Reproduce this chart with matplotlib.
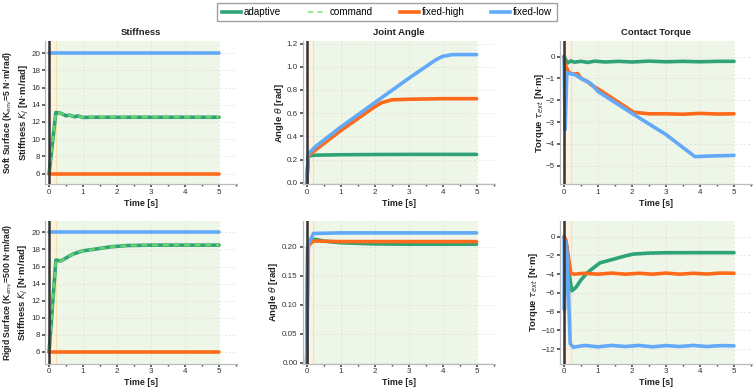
import matplotlib
matplotlib.use("Agg")
import matplotlib.pyplot as plt
from matplotlib.lines import Line2D
from matplotlib.ticker import MultipleLocator

plt.rcParams['font.family'] = ['Liberation Sans', 'DejaVu Sans']
plt.rcParams['mathtext.fontset'] = 'dejavusans'

# ---------------- data ----------------
# Soft surface, stiffness
soft_K_t = [0.0, 0.2, 0.35, 0.5, 0.6, 0.75, 0.85, 1.0, 1.2, 2.0, 3.0, 4.0, 5.0]
soft_K_adaptive = [6.0, 13.1, 13.0, 12.72, 12.8, 12.6, 12.7, 12.52, 12.55, 12.55, 12.55, 12.55, 12.55]
soft_K_command = soft_K_adaptive
const_t = [0.0, 5.0]
K_fixed_high = [6.0, 6.0]
K_fixed_low = [20.0, 20.0]

# Soft surface, joint angle
soft_th_ad_t = [0.0, 0.05, 0.2, 1.0, 2.0, 3.0, 4.0, 5.0]
soft_th_adaptive = [0.0, 0.23, 0.238, 0.242, 0.244, 0.245, 0.245, 0.245]
soft_th_hi_t = [0.0, 0.05, 0.2, 1.0, 2.0, 2.2, 2.5, 3.0, 4.0, 5.0]
soft_th_fixed_high = [0.0, 0.235, 0.27, 0.45, 0.655, 0.69, 0.715, 0.72, 0.725, 0.725]
soft_th_lo_t = [0.0, 0.05, 0.25, 1.0, 2.0, 3.0, 3.8, 4.0, 4.3, 5.0]
soft_th_fixed_low = [0.0, 0.25, 0.31, 0.48, 0.69, 0.90, 1.06, 1.09, 1.105, 1.105]

# Soft surface, contact torque
soft_tq_ad_t = [0.0, 0.1, 0.2, 0.3, 0.5, 0.7, 0.9, 1.2, 1.6, 2.0, 2.5, 3.0, 3.5, 4.0, 4.5, 5.0]
soft_tq_adaptive = [0.0, -0.3, -0.2, -0.26, -0.22, -0.27, -0.21, -0.25, -0.22, -0.25, -0.21, -0.24, -0.22, -0.24, -0.22, -0.22]
soft_tq_hi_t = [0.0, 0.02, 0.15, 0.3, 0.4, 0.5, 0.6, 0.7, 0.8, 1.0, 2.05, 2.5, 3.0, 3.5, 4.0, 4.5, 5.0]
soft_tq_fixed_high = [0.0, -0.35, -0.75, -0.8, -0.78, -1.0, -1.08, -1.15, -1.3, -1.48, -2.55, -2.62, -2.62, -2.64, -2.6, -2.63, -2.62]
soft_tq_lo_t = [0.0, 0.03, 0.08, 0.3, 0.5, 0.8, 1.0, 2.0, 3.0, 3.85, 4.3, 5.0]
soft_tq_fixed_low = [0.0, -3.35, -0.75, -0.82, -1.0, -1.25, -1.6, -2.6, -3.57, -4.58, -4.55, -4.52]

# Rigid surface, stiffness
rig_K_t = [0.0, 0.2, 0.35, 0.5, 0.7, 1.0, 1.3, 1.8, 2.3, 3.0, 4.0, 5.0]
rig_K_adaptive = [6.0, 16.75, 16.65, 17.0, 17.45, 17.84, 18.0, 18.3, 18.45, 18.5, 18.5, 18.5]
rig_K_command = rig_K_adaptive

# Rigid surface, joint angle
rig_th_ad_t = [0.0, 0.03, 0.15, 0.25, 0.5, 1.0, 2.0, 3.0, 5.0]
rig_th_adaptive = [0.0, 0.2, 0.211, 0.213, 0.21, 0.207, 0.205, 0.2045, 0.2045]
rig_th_hi_t = [0.0, 0.03, 0.1, 0.2, 1.0, 3.0, 5.0]
rig_th_fixed_high = [0.0, 0.2, 0.205, 0.21, 0.209, 0.209, 0.209]
rig_th_lo_t = [0.0, 0.05, 0.1, 0.2, 1.0, 3.0, 5.0]
rig_th_fixed_low = [0.0, 0.205, 0.211, 0.223, 0.224, 0.224, 0.224]

# Rigid surface, contact torque
rig_tq_ad_t = [0.0, 0.08, 0.15, 0.23, 0.35, 0.5, 0.67, 0.8, 1.06, 1.4, 1.8, 2.04, 2.5, 3.0, 4.0, 5.0]
rig_tq_adaptive = [0.0, -1.0, -4.0, -5.77, -5.4, -4.6, -3.9, -3.5, -2.78, -2.45, -2.05, -1.85, -1.75, -1.71, -1.7, -1.7]
rig_tq_hi_t = [0.0, 0.05, 0.12, 0.2, 0.3, 0.6, 1.0, 1.4, 1.8, 2.2, 2.6, 3.0, 3.4, 3.8, 4.2, 4.6, 5.0]
rig_tq_fixed_high = [0.0, -0.3, -2.0, -3.9, -4.0, -3.9, -4.0, -3.88, -4.0, -3.9, -4.0, -3.88, -4.0, -3.9, -3.98, -3.88, -3.9]
rig_tq_lo_t = [0.0, 0.01, 0.03, 0.08, 0.13, 0.18, 0.27, 0.6, 1.0, 1.4, 1.8, 2.2, 2.6, 3.0, 3.4, 3.8, 4.2, 4.6, 5.0]
rig_tq_fixed_low = [0.0, -7.8, -0.5, -1.5, -6.0, -11.4, -11.8, -11.6, -11.75, -11.6, -11.72, -11.6, -11.75, -11.62, -11.72, -11.6, -11.72, -11.62, -11.65]

col_titles = ["Stiffness", "Joint Angle", "Contact Torque"]
row_labels = [r"Soft Surface (K$_{env}$=5 N·m/rad)", r"Rigid Surface (K$_{env}$=500 N·m/rad)"]
ylabels = [r"Stiffness $K_j$ [N·m/rad]", r"Angle $\theta$ [rad]", r"Torque $\tau_{ext}$ [N·m]"]
legend_labels = ["adaptive", "command", "fixed-high", "fixed-low"]

# ---------------- style ----------------
C_AD = '#2ea377'
C_CMD = '#76d86a'
C_CMD_LEG = '#9be89b'
C_HI = '#ff6a1a'
C_LO = '#62a9f7'

fig = plt.figure(figsize=(7.54, 3.92), dpi=100)
W, H = 754, 392
lefts = [45, 302.6, 560]
row_tb = [(41, 184), (220.7, 363.5)]
aw = 192
ylabel_x = [[24, 279, 539], [23, 274, 533]]

panels = [
    [
        [(soft_K_t, soft_K_adaptive, 'ad'), (soft_K_t, soft_K_command, 'cmd'), (const_t, K_fixed_high, 'hi'), (const_t, K_fixed_low, 'lo')],
        [(soft_th_ad_t, soft_th_adaptive, 'ad'), (soft_th_hi_t, soft_th_fixed_high, 'hi'), (soft_th_lo_t, soft_th_fixed_low, 'lo')],
        [(soft_tq_ad_t, soft_tq_adaptive, 'ad'), (soft_tq_hi_t, soft_tq_fixed_high, 'hi'), (soft_tq_lo_t, soft_tq_fixed_low, 'lo')],
    ],
    [
        [(rig_K_t, rig_K_adaptive, 'ad'), (rig_K_t, rig_K_command, 'cmd'), (const_t, K_fixed_high, 'hi'), (const_t, K_fixed_low, 'lo')],
        [(rig_th_ad_t, rig_th_adaptive, 'ad'), (rig_th_hi_t, rig_th_fixed_high, 'hi'), (rig_th_lo_t, rig_th_fixed_low, 'lo')],
        [(rig_tq_ad_t, rig_tq_adaptive, 'ad'), (rig_tq_hi_t, rig_tq_fixed_high, 'hi'), (rig_tq_lo_t, rig_tq_fixed_low, 'lo')],
    ],
]
ylims = [[(4.8, 21.4), (-0.01, 1.222), (-5.83, 0.71)],
         [(4.65, 21.36), (-0.001, 0.245), (-13.53, 1.71)]]
ymajor = [[2, 0.2, 1], [2, 0.05, 2]]

styles = {
    'ad': dict(color=C_AD, lw=2.6, zorder=3, solid_capstyle='round'),
    'cmd': dict(color=C_CMD, lw=1.7, ls=(0, (2.5, 2)), zorder=4, alpha=0.9),
    'hi': dict(color=C_HI, lw=2.6, zorder=5, solid_capstyle='round'),
    'lo': dict(color=C_LO, lw=2.6, zorder=6, solid_capstyle='round'),
}

for r in range(2):
    top, bot = row_tb[r]
    for c in range(3):
        ax = fig.add_axes([lefts[c] / W, 1 - bot / H, aw / W, (bot - top) / H])
        ax.set_facecolor('white')
        ax.axvspan(0, 0.2, color='#fdf1e2', zorder=0, lw=0)
        ax.axvspan(0.2, 5, color='#eef6e8', zorder=0, lw=0)
        ax.axvline(0.2, color='#f4e3a8', lw=0.8, zorder=1)
        for (t, y, k) in panels[r][c]:
            ax.plot(t, y, **styles[k])
        ax.axvline(0, color='#333333', lw=1.8, zorder=8)
        ax.set_xlim(-0.12, 5.53)
        ax.set_ylim(*ylims[r][c])
        ax.xaxis.set_major_locator(MultipleLocator(1))
        ax.xaxis.set_minor_locator(MultipleLocator(0.5))
        ax.yaxis.set_major_locator(MultipleLocator(ymajor[r][c]))
        ax.grid(True, which='major', ls=(0, (3, 3)), color='#dddddd', lw=0.5, zorder=0.5)
        for s in ['top', 'right']:
            ax.spines[s].set_visible(False)
        for s in ['left', 'bottom']:
            ax.spines[s].set_color('#bbbbbb')
            ax.spines[s].set_linewidth(0.9)
        ax.tick_params(which='major', length=2, width=1.2, color='#444444', labelsize=5.8, labelcolor='#333333', pad=1.5)
        ax.tick_params(which='minor', length=1.5, width=1.0, color='#444444')
        if r == 0:
            ax.set_title(col_titles[c], fontsize=6.8, fontweight='bold', pad=4, color='#222222')
        ax.set_xlabel("Time [s]", fontsize=6.4, fontweight='bold', labelpad=2, color='#222222')
        ax.set_ylabel(ylabels[c], fontsize=6.8, fontweight='bold', color='#222222')
        ax.yaxis.label.set_verticalalignment('center')
        ax.yaxis.set_label_coords((ylabel_x[r][c] - lefts[c]) / aw, 0.5)

for r in range(2):
    top, bot = row_tb[r]
    fig.text(8 / W, 1 - (top + bot) / 2 / H, row_labels[r], rotation=90, ha='center', va='center',
             fontsize=6.2, fontweight='bold', color='#222222')

handles = [Line2D([], [], color=C_AD, lw=2.6),
           Line2D([], [], color=C_CMD_LEG, lw=1.5, ls=(0, (2.5, 2))),
           Line2D([], [], color=C_HI, lw=2.6),
           Line2D([], [], color=C_LO, lw=2.6)]
leg = fig.legend(handles, legend_labels, loc='center', bbox_to_anchor=(387 / W, 1 - 12 / H), ncol=4,
                 fontsize=7.1, frameon=True, fancybox=False, columnspacing=2.75, handlelength=1.9,
                 handletextpad=0.3, borderpad=0.45)
leg.get_frame().set_edgecolor('#888888')
leg.get_frame().set_linewidth(1.0)

fig.savefig("out.png", dpi=100, facecolor='white')
